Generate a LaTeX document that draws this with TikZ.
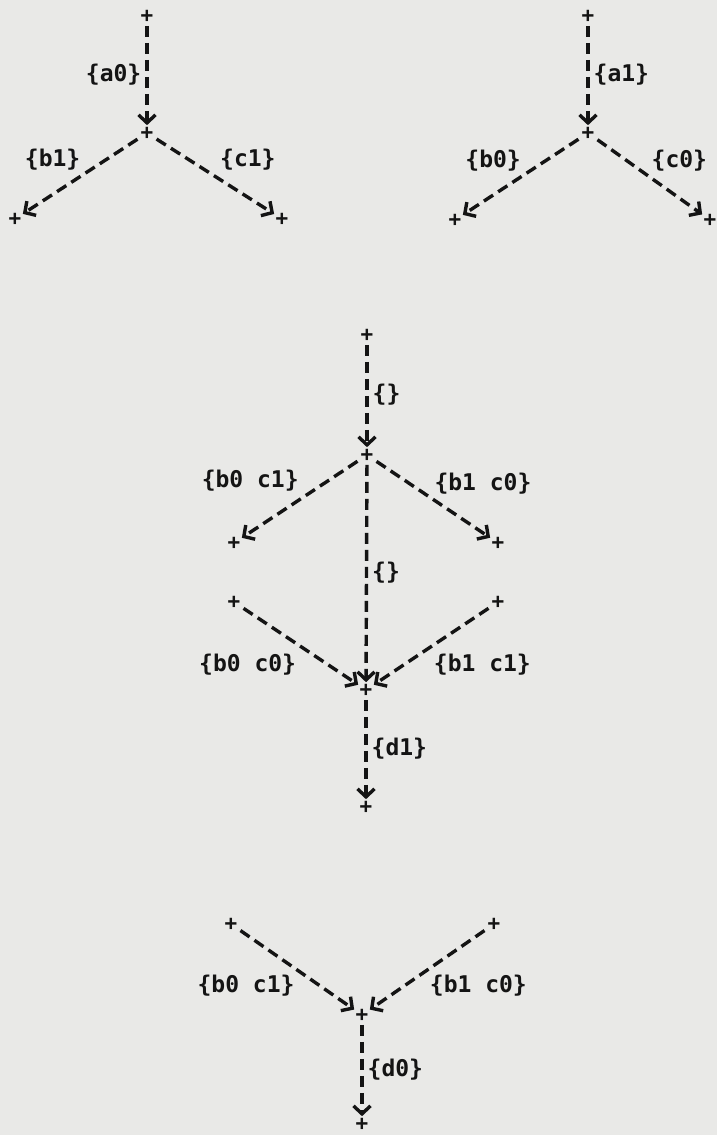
\documentclass[tikz,border=0pt]{standalone}
\usepackage{fontspec}
\setmonofont{DejaVu Sans Mono}
\usetikzlibrary{arrows.meta}
\definecolor{Paper}{HTML}{E9E9E7}
\definecolor{Ink}{HTML}{141414}

\begin{document}
\begin{tikzpicture}[x=1pt, y=-1pt, >={Straight Barb[length=8pt,width=17pt]},
    font=\fontsize{23}{26}\selectfont\ttfamily\bfseries,
    pt/.style={inner sep=0.5pt, text=Ink, font=\fontsize{21}{21}\selectfont\ttfamily\bfseries},
    flow/.style={->, Ink, line width=3.4pt, dash pattern=on 11pt off 6pt, shorten >=1pt, shorten <=3pt},
    lbl/.style={text=Ink, inner sep=4pt}]
    \fill[Paper] (0,0) rectangle (717,1135);
    \useasboundingbox (0,0) rectangle (717,1135);

    % left tree
    \node[pt] (la) at (147,16) {+};
    \node[pt] (lc) at (147,133) {+};
    \node[pt] (lb) at (15,219) {+};
    \node[pt] (ld) at (282,219) {+};
    \draw[flow] (la) -- node[lbl, left] {\{a0\}} (lc);
    \draw[flow] (lc) -- node[lbl, above left, xshift=5pt] {\{b1\}} (lb);
    \draw[flow] (lc) -- node[lbl, above right] {\{c1\}} (ld);

    % right tree
    \node[pt] (ra) at (588,16) {+};
    \node[pt] (rc) at (588,133) {+};
    \node[pt] (rb) at (455,220) {+};
    \node[pt] (rd) at (710,220) {+};
    \draw[flow] (ra) -- node[lbl, right] {\{a1\}} (rc);
    \draw[flow] (rc) -- node[lbl, above left, xshift=5pt] {\{b0\}} (rb);
    \draw[flow] (rc) -- node[lbl, above right, xshift=-3pt] {\{c0\}} (rd);

    % middle
    \node[pt] (ma) at (367,335) {+};
    \node[pt] (mc) at (367,455) {+};
    \node[pt] (mb) at (234,543) {+};
    \node[pt] (md) at (498,543) {+};
    \node[pt] (me) at (234,602) {+};
    \node[pt] (mf) at (498,602) {+};
    \node[pt] (mg) at (366,690) {+};
    \node[pt] (mh) at (366,807) {+};
    \draw[flow] (ma) -- node[lbl, right] {\{\}} (mc);
    \draw[flow] (mc) -- node[lbl, above left, pos=0.4, xshift=-8pt, yshift=-6pt] {\{b0 c1\}} (mb);
    \draw[flow] (mc) -- node[lbl, above right, pos=0.4, xshift=8pt, yshift=-9pt] {\{b1 c0\}} (md);
    \draw[flow] (mc) -- node[lbl, right, pos=0.5] {\{\}} (mg);
    \draw[flow] (me) -- node[lbl, below left, pos=0.6, xshift=-10pt, yshift=6pt] {\{b0 c0\}} (mg);
    \draw[flow] (mf) -- node[lbl, below right, pos=0.6, xshift=8pt, yshift=6pt] {\{b1 c1\}} (mg);
    \draw[flow] (mg) -- node[lbl, right] {\{d1\}} (mh);

    % bottom
    \node[pt] (be) at (231,924) {+};
    \node[pt] (bf) at (494,924) {+};
    \node[pt] (bg) at (362,1015) {+};
    \node[pt] (bh) at (362,1124) {+};
    \draw[flow] (be) -- node[lbl, below left, pos=0.6, xshift=-8pt, yshift=8pt] {\{b0 c1\}} (bg);
    \draw[flow] (bf) -- node[lbl, below right, pos=0.6, xshift=8pt, yshift=8pt] {\{b1 c0\}} (bg);
    \draw[flow] (bg) -- node[lbl, right] {\{d0\}} (bh);
\end{tikzpicture}
\end{document}
